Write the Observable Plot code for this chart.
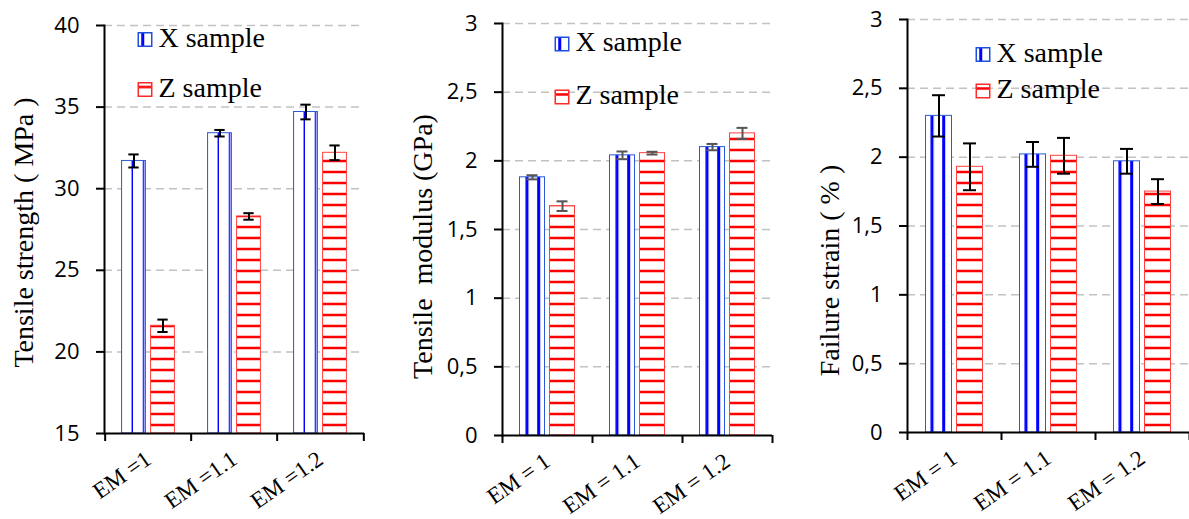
<!DOCTYPE html>
<html><head><meta charset="utf-8">
<script src="https://cdn.jsdelivr.net/npm/d3@7"></script>
<script src="https://cdn.jsdelivr.net/npm/@observablehq/plot@0.6"></script>
<style>
body{margin:0;background:#fff;width:1189px;height:519px;overflow:hidden;position:relative}
.panel{position:absolute;top:0}
</style></head><body>
<script>
// ---- data ----
const catsStrength = ["EM =1", "EM =1.1", "EM =1.2"];
const catsOther = ["EM = 1", "EM = 1.1", "EM = 1.2"];
const seriesNames = ["X sample", "Z sample"];

const strengthX = [31.7, 33.4, 34.7];
const strengthXErr = [0.4, 0.2, 0.45];
const strengthZ = [21.6, 28.3, 32.2];
const strengthZErr = [0.38, 0.2, 0.45];

const modulusX = [1.88, 2.04, 2.10];
const modulusXErr = [0.015, 0.028, 0.023];
const modulusZ = [1.67, 2.056, 2.20];
const modulusZErr = [0.035, 0.01, 0.04];

const strainX = [2.30, 2.02, 1.97];
const strainXErr = [0.15, 0.09, 0.09];
const strainZ = [1.93, 2.01, 1.75];
const strainZErr = [0.17, 0.13, 0.09];

const yTicksStrength = [15, 20, 25, 30, 35, 40];
const yTicksOther = [0, 0.5, 1, 1.5, 2, 2.5, 3];

const titles = ["Tensile strength ( MPa )", "Tensile  modulus (GPa)", "Failure strain ( % )"];

// ---- panels (layout only) ----
const panels = [
  {id: 1, left: 0, width: 390, ml: 104, mr: 26, mt: 25, mb: 86, cats: catsStrength,
   x: strengthX, xe: strengthXErr, z: strengthZ, ze: strengthZErr,
   yDomain: [15, 40], yTicks: yTicksStrength, title: titles[0],
   barW: 24.5, off: 14.5, capW: 11, errColor: "#000", stripeOff: 10, titleX: 24, titleY: 232,
   legend: {swX: 144.5, txX: 158, rows: [{sw: 39, base: 47}, {sw: 89, base: 97}]}},
  {id: 2, left: 390, width: 400, ml: 112, mr: 18, mt: 23, mb: 84, cats: catsOther,
   x: modulusX, xe: modulusXErr, z: modulusZ, ze: modulusZErr,
   yDomain: [0, 3], yTicks: yTicksOther, title: titles[1],
   barW: 25, off: 15, capW: 11, errColor: "#555", stripeOff: 6, titleX: 33, titleY: 246,
   legend: {swX: 171.5, txX: 185, rows: [{sw: 43.5, base: 51}, {sw: 96.5, base: 104}]}},
  {id: 3, left: 790, width: 399, ml: 117, mr: 0, mt: 19, mb: 87, cats: catsOther,
   x: strainX, xe: strainXErr, z: strainZ, ze: strainZErr,
   yDomain: [0, 3], yTicks: yTicksOther, title: titles[2],
   barW: 26, off: 15.5, capW: 13, errColor: "#000", stripeOff: 5, titleX: 40, titleY: 270,
   legend: {swX: 192.5, txX: 206, rows: [{sw: 54, base: 62}, {sw: 90.5, base: 98}]}}
];

const fmt = d => String(d).replace(".", ",");
const SERIF = "Liberation Serif, Times New Roman, serif";

for (const cfg of panels) {
  const rowsX = cfg.cats.map((c, i) => ({cat: c, v: cfg.x[i], e: cfg.xe[i]}));
  const rowsZ = cfg.cats.map((c, i) => ({cat: c, v: cfg.z[i], e: cfg.ze[i]}));
  const H = 519;
  const bw = (cfg.width - cfg.ml - cfg.mr) / cfg.cats.length;
  const inset = (bw - cfg.barW) / 2;
  const capInset = (bw - cfg.capW) / 2;
  const y0 = cfg.yDomain[0];
  const pxPerUnit = (H - cfg.mt - cfg.mb) / (cfg.yDomain[1] - cfg.yDomain[0]);
  const tickDown = 8 / pxPerUnit;
  const frameMidY = (cfg.mt + H - cfg.mb) / 2;
  const lg = cfg.legend;

  const errMarks = (rows, dx) => [
    Plot.ruleX(rows, {x: "cat", y1: d => d.v - d.e, y2: d => d.v + d.e, dx, stroke: cfg.errColor, strokeWidth: 2}),
    Plot.tickY(rows, {x: "cat", y: d => d.v + d.e, dx, insetLeft: capInset, insetRight: capInset, stroke: cfg.errColor, strokeWidth: 2}),
    Plot.tickY(rows, {x: "cat", y: d => d.v - d.e, dx, insetLeft: capInset, insetRight: capInset, stroke: cfg.errColor, strokeWidth: 2})
  ];

  const legendMarks = seriesNames.flatMap((name, k) => [
    Plot.dot([name], {frameAnchor: "top-left", symbol: "square", r: 7.6,
      dx: lg.swX - cfg.ml, dy: lg.rows[k].sw - cfg.mt,
      fill: `url(#${k === 0 ? "lx" : "lz"}${cfg.id})`,
      stroke: k === 0 ? "#1f4fe0" : "#ff2a2a", strokeWidth: 1.5}),
    Plot.text([name], {frameAnchor: "top-left", textAnchor: "start", lineAnchor: "middle",
      dx: lg.txX - cfg.ml, dy: lg.rows[k].base - 9 - cfg.mt,
      fontFamily: SERIF, fontSize: 28, fill: "#000"})
  ]);

  const svg = Plot.plot({
    width: cfg.width, height: H,
    marginLeft: cfg.ml, marginRight: cfg.mr, marginTop: cfg.mt, marginBottom: cfg.mb,
    style: {fontFamily: SERIF, fontSize: "22px", overflow: "visible", background: "transparent"},
    x: {domain: cfg.cats, padding: 0, axis: null},
    y: {domain: cfg.yDomain, axis: null},
    marks: [
      Plot.gridY(cfg.yTicks.filter(t => t > y0), {stroke: "#c2c2c2", strokeOpacity: 1, strokeWidth: 1.5, strokeDasharray: "8,5"}),
      Plot.barY(rowsX, {x: "cat", y1: y0, y2: "v", dx: -cfg.off, insetLeft: inset, insetRight: inset,
        fill: `url(#vs${cfg.id})`, stroke: "#2a5ad8", strokeWidth: 1}),
      Plot.barY(rowsZ, {x: "cat", y1: y0, y2: "v", dx: cfg.off, insetLeft: inset, insetRight: inset,
        fill: `url(#hs${cfg.id})`, stroke: "#ff4040", strokeWidth: 1}),
      ...errMarks(rowsX, -cfg.off),
      ...errMarks(rowsZ, cfg.off),
      Plot.ruleY([y0], {stroke: "#000", strokeWidth: 2}),
      Plot.ruleX(cfg.cats, {x: d => d, dx: -bw / 2, y1: y0, y2: y0 - tickDown, stroke: "#000", strokeWidth: 2}),
      Plot.ruleX(cfg.cats.slice(-1), {x: d => d, dx: bw / 2, y1: y0, y2: y0 - tickDown, stroke: "#000", strokeWidth: 2}),
      Plot.frame({anchor: "left", stroke: "#000", strokeWidth: 2}),
      Plot.axisY({ticks: cfg.yTicks, tickSize: 8, tickPadding: 17, tickFormat: fmt, label: null,
        stroke: "#000", strokeWidth: 2, fontFamily: "Open Sans", fontSize: 22, fill: "#000"}),
      Plot.axisX({tickSize: 0, tickRotate: -35, tickPadding: 23, label: null, dx: 0,
        fontFamily: SERIF, fontSize: 23, fill: "#000"}),
      Plot.text([cfg.title], {frameAnchor: "left", rotate: -90, textAnchor: "middle", lineAnchor: "middle",
        dx: cfg.titleX - cfg.ml, dy: cfg.titleY - frameMidY,
        fontFamily: SERIF, fontSize: 28, fill: "#000"}),
      ...legendMarks
    ]
  });

  const ns = "http://www.w3.org/2000/svg";
  const defs = document.createElementNS(ns, "defs");
  const frac = 11.7 / cfg.barW;
  defs.innerHTML =
    `<pattern id="vs${cfg.id}" patternUnits="objectBoundingBox" x="0" y="0" width="${frac}" height="1">` +
    `<rect x="-20" y="-5" width="100" height="2000" fill="#fff"/>` +
    `<rect x="${cfg.stripeOff}" y="-5" width="3" height="2000" fill="#0000ff"/></pattern>` +
    `<pattern id="hs${cfg.id}" patternUnits="userSpaceOnUse" x="0" y="0" width="40" height="11">` +
    `<rect x="0" y="0" width="40" height="11" fill="#fff"/>` +
    `<rect x="0" y="5.75" width="40" height="2.5" fill="#ff0000"/></pattern>` +
    `<pattern id="lx${cfg.id}" patternUnits="objectBoundingBox" x="0" y="0" width="1" height="1">` +
    `<rect x="-5" y="-5" width="40" height="40" fill="#fff"/>` +
    `<rect x="3" y="-5" width="3" height="40" fill="#0000ff"/></pattern>` +
    `<pattern id="lz${cfg.id}" patternUnits="objectBoundingBox" x="0" y="0" width="1" height="1">` +
    `<rect x="-5" y="-5" width="40" height="40" fill="#fff"/>` +
    `<rect x="-5" y="3" width="40" height="2.5" fill="#ff0000"/></pattern>`;
  svg.insertBefore(defs, svg.firstChild);

  const wrap = document.createElement("div");
  wrap.className = "panel";
  wrap.style.left = cfg.left + "px";
  wrap.appendChild(svg);
  document.body.appendChild(wrap);
}
</script>
</body></html>
